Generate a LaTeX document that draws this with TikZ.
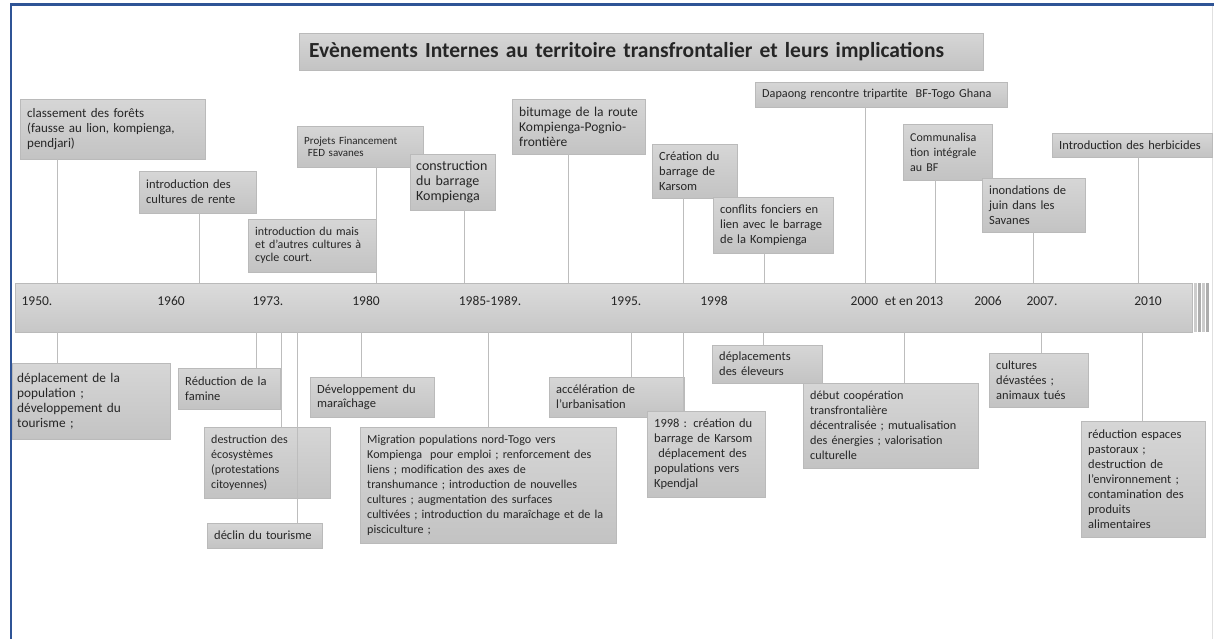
\documentclass[tikz,border=0pt]{standalone}
\usepackage{fontspec}
\setmainfont{Carlito}
\usetikzlibrary{shadows}
\definecolor{frameblue}{HTML}{2F5496}
\definecolor{boxtop}{HTML}{D6D6D6}
\definecolor{boxbot}{HTML}{C3C3C3}
\definecolor{boxline}{HTML}{BABABA}
\definecolor{connline}{HTML}{BDBDBD}
\newcommand{\evfont}{\fontsize{12.5}{15}\selectfont}
\newcommand{\yrfont}{\fontsize{13.5}{16}\selectfont}
\tikzset{
  evt/.style={anchor=north west,draw=boxline,top color=boxtop,bottom color=boxbot,
    align=left,inner xsep=7pt,inner ysep=0pt,font=\evfont,text=black!85,
    drop shadow={shadow xshift=1pt,shadow yshift=-1pt,fill=black!35,opacity=.4}},
  fs/.style 2 args={font=\fontsize{#1}{#2}\selectfont},
  ttl/.style={anchor=north west,draw=boxline,top color=boxtop,bottom color=boxbot,
    align=left,inner xsep=10pt,font=\bfseries\fontsize{21.5}{26}\selectfont,text=black!85,
    drop shadow={shadow xshift=1pt,shadow yshift=-1pt,fill=black!35,opacity=.4}},
  tl/.style={anchor=north west,draw=boxline,top color=black!14,bottom color=black!22},
  yr/.style={font=\yrfont,text=black!85},
  conn/.style={connline,line width=1pt},
}

\begin{document}
\begin{tikzpicture}[x=1pt,y=-1pt]
  \useasboundingbox (0,0) rectangle (1214,639);
  % frame
  \draw[frameblue,line width=3pt] (10,5) -- (1214,5);
  \draw[frameblue,line width=2.5pt] (11,4) -- (11,639);
  \draw[black!12,line width=1pt] (1212,6) -- (1212,639);

  \node[ttl,text width=664pt,minimum height=37pt] (title) at (299,33)
    {\mbox{Evènements Internes au territoire transfrontalier et leurs implications}};

  % time line
  \node[tl,minimum width=1177pt,minimum height=49pt] (bar) at (15,283) {};
  \foreach \x/\s in {1195/black!20,1199/black!32,1203/black!20,1207/black!32}
    \fill[\s] (\x-1.5,283) rectangle (\x+1.5,332);
  \foreach \x/\t in {37/1950.,171/1960,268/1973.,366/1980,490/1985-1989.,626/1995.,
      714/1998,897/2000\enspace et en 2013,988/2006,1042/2007.,1148/2010}
    \node[yr] (yr\x) at (\x,301) {\t};

  % events above
  \node[evt,fs={13}{15},text width=171pt,minimum height=60pt] (t1) at (20,99)
    {classement des forêts\\(fausse au lion, kompienga,\\pendjari)};
  \node[evt,text width=103pt,minimum height=42pt] (t2) at (139,171)
    {introduction des\\cultures de rente};
  \node[evt,fs={11}{12.5},text width=112pt,minimum height=41pt] (t3) at (297,126)
    {Projets Financement\\\ FED savanes};
  \node[evt,fs={12}{13},text width=114pt,minimum height=53pt] (t4) at (248,219)
    {introduction du mais\\et d'autres cultures à\\cycle court.};
  \node[evt,fs={14}{15},text width=73pt,minimum height=56pt,inner xsep=6pt] (t5) at (410,154)
    {construction\\du barrage\\Kompienga};
  \node[evt,fs={13.5}{15},text width=119pt,minimum height=55pt] (t6) at (512,99)
    {bitumage de la route\\Kompienga-Pognio-\\frontière};
  \node[evt,text width=71pt,minimum height=54pt] (t7) at (652,144)
    {Création du\\barrage de\\Karsom};
  \node[evt,text width=106pt,minimum height=56pt] (t8) at (713,197)
    {conflits fonciers en\\lien avec le barrage\\de la Kompienga};
  \node[evt,fs={12.2}{15},text width=238pt,minimum height=25pt] (t9) at (755,82)
    {Dapaong rencontre tripartite\ \ BF-Togo Ghana};
  \node[evt,fs={12}{15},text width=75pt,minimum height=56pt] (t10) at (903,124)
    {Communalisa\\tion intégrale\\au BF};
  \node[evt,text width=89pt,minimum height=54pt] (t11) at (982,178)
    {inondations de\\juin dans les\\Savanes};
  \node[evt,text width=146pt,minimum height=24pt] (t12) at (1052,133)
    {Introduction des herbicides};

  % events below
  \node[evt,fs={13.3}{15},text width=148pt,minimum height=76pt,inner xsep=5pt] (b1) at (12,363)
    {déplacement de la\\population ;\\développement du\\tourisme ;};
  \node[evt,text width=88pt,minimum height=41pt] (b2) at (178,368)
    {Réduction de la\\famine};
  \node[evt,fs={12}{15},text width=112pt,minimum height=71pt] (b3) at (204,427)
    {destruction des\\écosystèmes\\(protestations\\citoyennes)};
  \node[evt,text width=101pt,minimum height=25pt] (b4) at (207,523)
    {déclin du tourisme};
  \node[evt,fs={12.5}{13.5},text width=110pt,minimum height=40pt] (b5) at (310,377)
    {Développement du\\maraîchage};
  \node[evt,fs={12.1}{15},text width=242pt,minimum height=116pt] (b6) at (360,427)
    {Migration populations nord-Togo vers\\Kompienga\ \ pour emploi ; renforcement des\\liens ; modification des axes de\\transhumance ; introduction de nouvelles\\cultures ; augmentation des surfaces\\cultivées ; introduction du maraîchage et de la\\pisciculture ;};
  \node[evt,text width=121pt,minimum height=40pt] (b7) at (549,377)
    {accélération de\\l'urbanisation};
  \node[evt,text width=104pt,minimum height=86pt] (b8) at (647,411)
    {1998 : création du\\barrage de Karsom\\\ déplacement des\\populations vers\\Kpendjal};
  \node[evt,text width=96pt,minimum height=38pt] (b9) at (712,345)
    {déplacements\\des éleveurs};
  \node[evt,fs={12.2}{15},text width=161pt,minimum height=85pt] (b10) at (803,383)
    {début coopération\\transfrontalière\\décentralisée ; mutualisation\\des énergies ; valorisation\\culturelle};
  \node[evt,text width=85pt,minimum height=54pt] (b11) at (989,353)
    {cultures\\dévastées ;\\animaux tués};
  \node[evt,text width=110pt,minimum height=116pt] (b12) at (1081,421)
    {réduction espaces\\pastoraux ;\\destruction de\\l'environnement ;\\contamination des\\produits\\alimentaires};

  % connectors
  \foreach \n/\x in {t1/57,t2/199,t3/376,t5/464,t6/568,t7/683,t8/764,t9/865,t10/935,t11/1033,t12/1138}
    \draw[conn] (\n.south -| \x,0) -- (bar.north -| \x,0);
  \foreach \n/\x in {b1/57,b2/256,b3/281,b4/297,b5/361,b6/488,b7/631,b8/683,b9/763,b10/904,b11/1041,b12/1142}
    \draw[conn] (bar.south -| \x,0) -- (\n.north -| \x,0);
\end{tikzpicture}
\end{document}
